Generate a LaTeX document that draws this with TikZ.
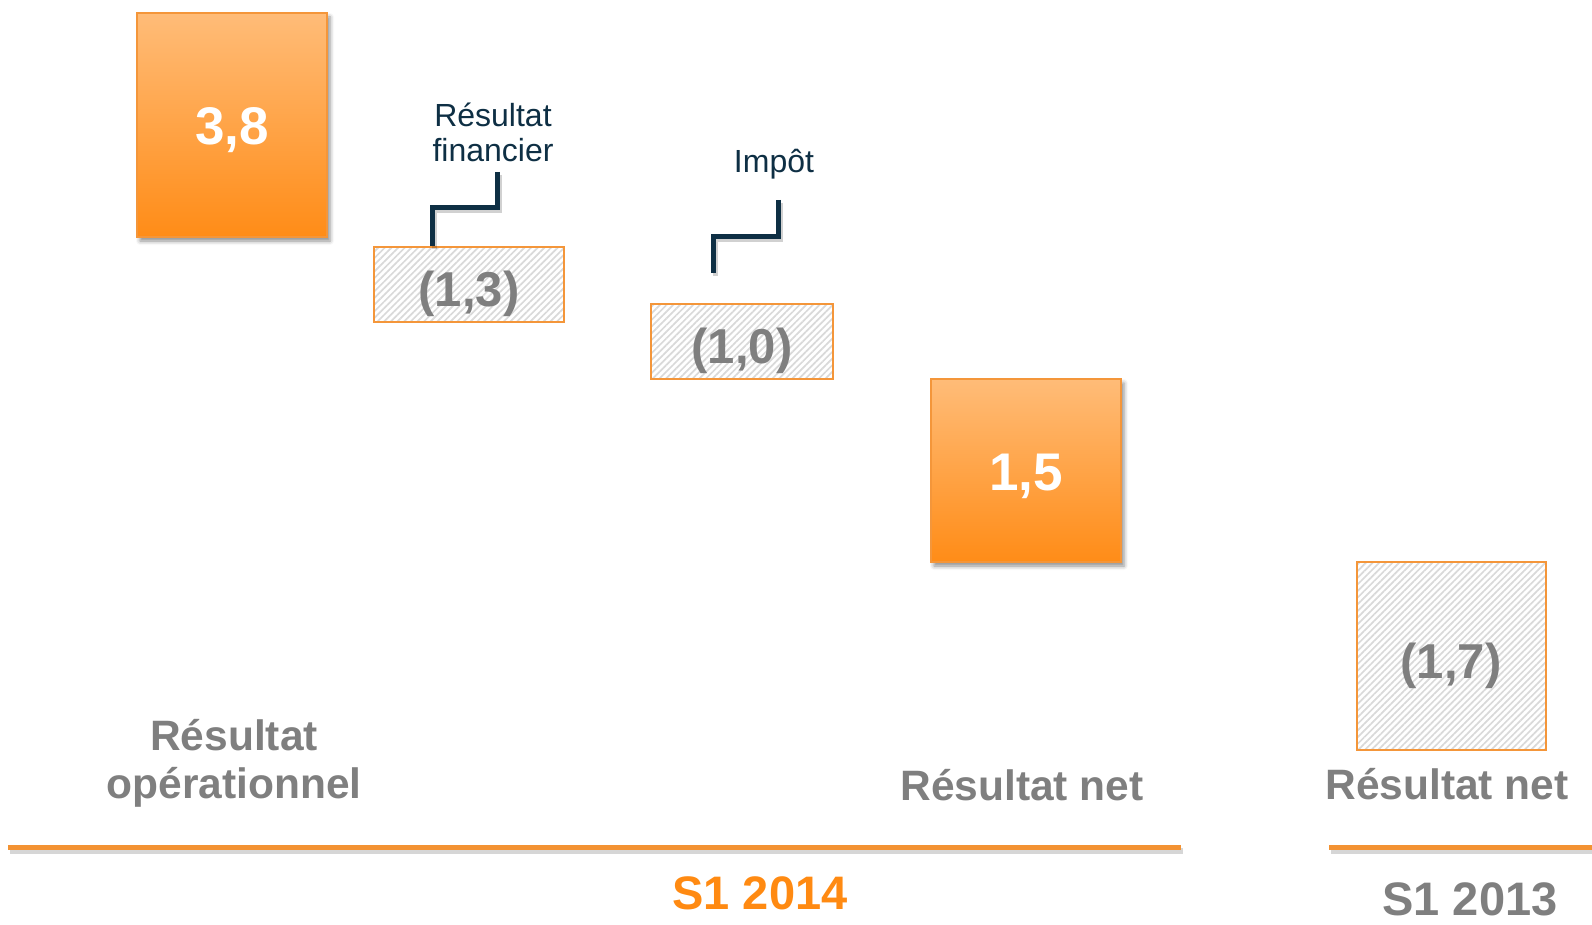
\documentclass[tikz,border=0pt]{standalone}
\usepackage{fontspec}
\setmainfont{Liberation Sans}
\usetikzlibrary{patterns.meta,shadows.blur}
\definecolor{barTop}{HTML}{FFBC78}
\definecolor{barBot}{HTML}{FF8C17}
\definecolor{barEdge}{HTML}{F4963A}
\definecolor{axisOrange}{HTML}{F39232}
\definecolor{labelGray}{HTML}{7F7F7F}
\definecolor{noteNavy}{HTML}{0E2F44}
\definecolor{hatchGray}{HTML}{D9D9D9}
\definecolor{yearOrange}{HTML}{FF8A12}
\begin{document}
\begin{tikzpicture}[x=1pt,y=-1pt,
  solidbar/.style={rectangle, draw=barEdge, line width=1.5pt,
    top color=barTop, bottom color=barBot, inner sep=0pt,
    blur shadow={shadow xshift=3pt, shadow yshift=-4pt,
      shadow blur radius=4pt, shadow opacity=45}},
  hatchbar/.style={rectangle, draw=barEdge, line width=1.5pt, inner sep=0pt,
    pattern={Lines[angle=45,distance=4.7pt,line width=1.7pt]},
    pattern color=hatchGray},
  solidval/.style={anchor=base, text=white, inner sep=0pt,
    font=\bfseries\fontsize{53}{53}\selectfont},
  hatchval/.style={anchor=base, text=labelGray, inner sep=0pt,
    font=\bfseries\fontsize{49}{49}\selectfont},
  catlabel/.style={anchor=base, text=labelGray, inner sep=0pt, align=center,
    font=\bfseries\fontsize{42.5}{48}\selectfont},
  yearlabel/.style={anchor=base, inner sep=0pt,
    font=\bfseries\fontsize{47}{47}\selectfont},
  note/.style={anchor=base, text=noteNavy, inner sep=0pt, align=center,
    font=\fontsize{32}{35}\selectfont},
  leader/.style={draw=noteNavy, line width=5pt, line cap=butt, line join=miter},
  leadershadow/.style={draw=black, opacity=0.18, line width=5pt,
    transform canvas={shift={(2pt,-3pt)}}},
  axis/.style={draw=axisOrange, line width=5pt},
  axisshadow/.style={draw=black, opacity=0.16, line width=6pt,
    transform canvas={shift={(2pt,-4pt)}}}
]
\useasboundingbox (0,0) rectangle (1592,925);

% bars
\node[solidbar, minimum width=190pt, minimum height=224pt] (op) at (232,125) {};
\node[hatchbar, minimum width=190pt, minimum height=75pt] (fr) at (469,284.5) {};
\node[hatchbar, minimum width=182pt, minimum height=75pt] (tx) at (742,341.5) {};
\node[solidbar, minimum width=190pt, minimum height=183pt] (net) at (1026,470.5) {};
\node[hatchbar, minimum width=189pt, minimum height=188pt] (prev) at (1451.5,656) {};

% values
\node[solidval] (opv) at (232,145) {3,8};
\node[hatchval] (frv) at (469,306) {(1,3)};
\node[hatchval] (txv) at (742,363) {(1,0)};
\node[solidval] (netv) at (1026,490) {1,5};
\node[hatchval] (prevv) at (1451,678) {(1,7)};

% notes and their leaders (multi-line notes sit on their last line)
\node[note] (frn) at (493,162) {Résultat\\financier};
\node[note] (txn) at (774,173) {Impôt};
\coordinate (frA) at (497,172);
\coordinate (frK) at (432,208);
\coordinate (txA) at (778,200);
\coordinate (txK) at (713,237);
\coordinate (txB) at (713,273);
\draw[leadershadow] (frA) |- (frK) -- (frK |- fr.north);
\draw[leader] (frA) |- (frK) -- (frK |- fr.north);
\draw[leadershadow] (txA) |- (txK) -- (txB);
\draw[leader] (txA) |- (txK) -- (txB);

% category labels
\node[catlabel] (opl) at (234,798) {Résultat\\opérationnel};
\node[catlabel] (netl) at (1022,800) {Résultat net};
\node[catlabel] (prevl) at (1447,799) {Résultat net};

% period axes
\coordinate (axL) at (8,847);
\coordinate (axR) at (1181,847);
\coordinate (bxL) at (1329,847);
\coordinate (bxR) at (1592,847);
\draw[axisshadow] (axL) -- (axR);
\draw[axisshadow] (bxL) -- (bxR);
\draw[axis] (axL) -- (axR);
\draw[axis] (bxL) -- (bxR);
\node[yearlabel, text=yearOrange] (y14) at (760,909) {S1 2014};
\node[yearlabel, text=labelGray] (y13) at (1470,915) {S1 2013};
\end{tikzpicture}
\end{document}
